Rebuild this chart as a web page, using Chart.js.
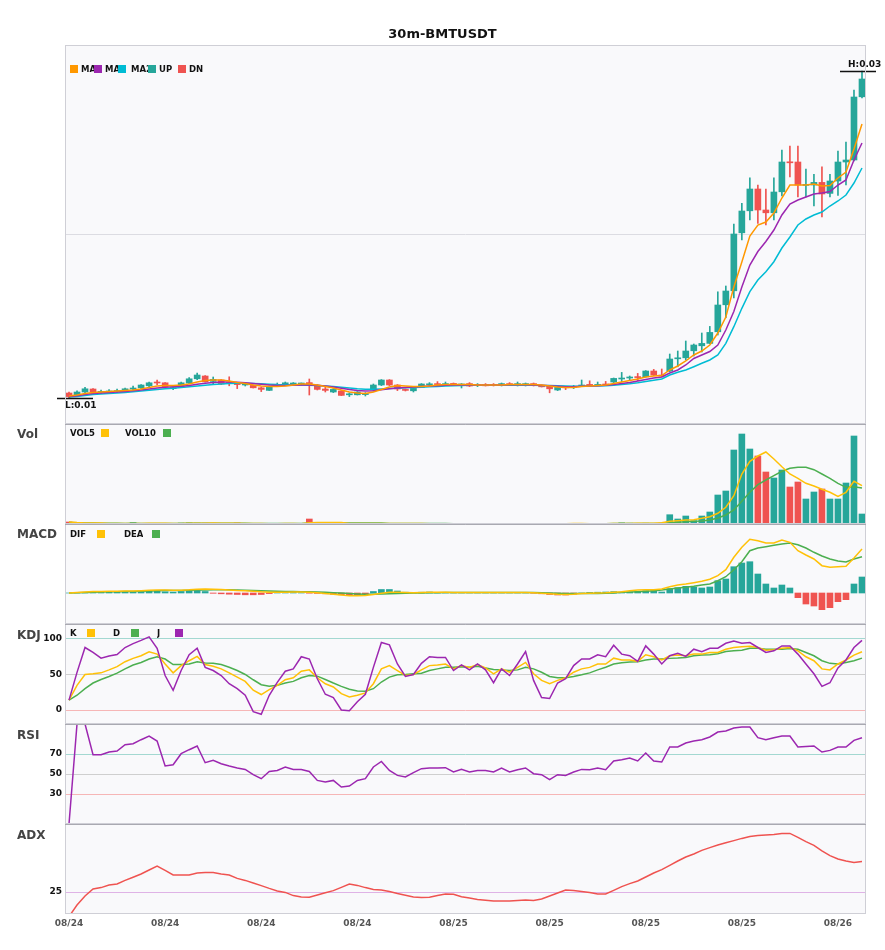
<!DOCTYPE html>
<html lang="en">
<head>
  <meta charset="UTF-8" />
  <title>30m-BMTUSDT</title>
  <script src="https://cdn.jsdelivr.net/npm/chart.js"></script>
  <style>
    body { margin: 0; background: #fff; font-family: 'DejaVu Sans', sans-serif; }
    #wrap { position: relative; width: 885px; height: 950px; }
    canvas { position: absolute; left: 0; }
    .title { position: absolute; left: 0; top: 26px; width: 885px; text-align: center; font: bold 13px 'DejaVu Sans'; line-height: 16px; color: #111; }
    .pname { position: absolute; left: 17px; font: bold 12px 'DejaVu Sans'; line-height: 14px; color: #444; }
    .lg { position: absolute; font: bold 8.5px 'DejaVu Sans'; line-height: 10px; color: #111; white-space: nowrap; overflow: hidden; }
    .sq { position: absolute; width: 8px; height: 8px; }
  </style>
</head>
<body>
<div id="wrap">
  <canvas id="mainChart" width="885" height="424" style="top:0"></canvas>
  <canvas id="volChart" width="885" height="100" style="top:424px"></canvas>
  <canvas id="macdChart" width="885" height="100" style="top:524px"></canvas>
  <canvas id="kdjChart" width="885" height="100" style="top:624px"></canvas>
  <canvas id="rsiChart" width="885" height="100" style="top:724px"></canvas>
  <canvas id="adxChart" width="885" height="126" style="top:824px"></canvas>

  <div class="title">30m-BMTUSDT</div>

  <!-- main legend: later squares sit over the clipped MA labels -->
  <div class="sq" style="left:70px;top:65px;background:#ff9800"></div>
  <div class="lg" style="left:81px;top:64px;width:13px">MA5</div>
  <div class="sq" style="left:94px;top:65px;background:#9c27b0"></div>
  <div class="lg" style="left:105px;top:64px;width:13px">MA10</div>
  <div class="sq" style="left:118px;top:65px;background:#00bcd4"></div>
  <div class="lg" style="left:131px;top:64px;width:17px">MA20</div>
  <div class="sq" style="left:148px;top:65px;background:#26a69a"></div>
  <div class="lg" style="left:159px;top:64px">UP</div>
  <div class="sq" style="left:178px;top:65px;background:#ef5350"></div>
  <div class="lg" style="left:189px;top:64px">DN</div>

  <div class="pname" style="top:427px">Vol</div>
  <div class="lg" style="left:70px;top:428px">VOL5</div>
  <div class="sq" style="left:101px;top:429px;background:#ffc107"></div>
  <div class="lg" style="left:125px;top:428px">VOL10</div>
  <div class="sq" style="left:163px;top:429px;background:#4caf50"></div>

  <div class="pname" style="top:527px">MACD</div>
  <div class="lg" style="left:70px;top:529px">DIF</div>
  <div class="sq" style="left:97px;top:530px;background:#ffc107"></div>
  <div class="lg" style="left:124px;top:529px">DEA</div>
  <div class="sq" style="left:152px;top:530px;background:#4caf50"></div>

  <div class="pname" style="top:628px">KDJ</div>
  <div class="lg" style="left:70px;top:628px">K</div>
  <div class="sq" style="left:87px;top:629px;background:#ffc107"></div>
  <div class="lg" style="left:113px;top:628px">D</div>
  <div class="sq" style="left:131px;top:629px;background:#4caf50"></div>
  <div class="lg" style="left:157px;top:628px">J</div>
  <div class="sq" style="left:175px;top:629px;background:#9c27b0"></div>

  <div class="pname" style="top:728px">RSI</div>
  <div class="pname" style="top:828px">ADX</div>
</div>

<script>
  // candles, 30m, prices in USDT
  const open = [0.01205,0.01192,0.01210,0.01225,0.01207,0.01210,0.01212,0.01215,0.01225,0.01231,
    0.01241,0.01258,0.01256,0.01227,0.01236,0.01255,0.01276,0.01290,0.01263,0.01270,
    0.01256,0.01250,0.01245,0.01243,0.01231,0.01218,0.01242,0.01245,0.01250,0.01250,
    0.01257,0.01243,0.01225,0.01210,0.01215,0.01196,0.01196,0.01197,0.01220,0.01245,
    0.01270,0.01245,0.01221,0.01216,0.01233,0.01246,0.01252,0.01247,0.01253,0.01245,
    0.01252,0.01242,0.01247,0.01246,0.01242,0.01252,0.01247,0.01242,0.01252,0.01243,
    0.01240,0.01220,0.01233,0.01233,0.01240,0.01246,0.01243,0.01250,0.01260,0.01275,
    0.01280,0.01285,0.01286,0.01315,0.01293,0.01315,0.01376,0.01381,0.01416,0.01441,
    0.01453,0.01511,0.01646,0.01716,0.02006,0.02116,0.02225,0.02120,0.02106,0.02211,
    0.02360,0.02360,0.02243,0.02245,0.02258,0.02203,0.02265,0.02360,0.02370,0.02686];
  const close = [0.01187,0.01210,0.01226,0.01211,0.01213,0.01215,0.01217,0.01226,0.01227,0.01245,
    0.01256,0.01255,0.01236,0.01230,0.01256,0.01276,0.01295,0.01261,0.01273,0.01250,
    0.01253,0.01247,0.01247,0.01231,0.01223,0.01236,0.01245,0.01256,0.01252,0.01251,
    0.01250,0.01223,0.01218,0.01223,0.01193,0.01198,0.01210,0.01202,0.01245,0.01270,
    0.01245,0.01225,0.01218,0.01228,0.01250,0.01250,0.01247,0.01252,0.01243,0.01248,
    0.01240,0.01247,0.01241,0.01243,0.01252,0.01247,0.01250,0.01252,0.01242,0.01236,
    0.01226,0.01233,0.01231,0.01238,0.01243,0.01243,0.01248,0.01243,0.01278,0.01278,
    0.01282,0.01282,0.01315,0.01295,0.01290,0.01375,0.01381,0.01415,0.01445,0.01453,
    0.01508,0.01645,0.01715,0.02000,0.02115,0.02225,0.02120,0.02106,0.02210,0.02360,
    0.02356,0.02245,0.02246,0.02258,0.02200,0.02265,0.02360,0.02370,0.02685,0.02775];
  const high = [0.01210,0.01216,0.01233,0.01227,0.01220,0.01222,0.01225,0.01230,0.01240,0.01247,
    0.01260,0.01270,0.01257,0.01237,0.01260,0.01282,0.01305,0.01292,0.01285,0.01272,
    0.01286,0.01252,0.01252,0.01245,0.01235,0.01240,0.01255,0.01260,0.01257,0.01255,
    0.01275,0.01247,0.01235,0.01227,0.01217,0.01205,0.01212,0.01207,0.01250,0.01272,
    0.01272,0.01247,0.01225,0.01230,0.01252,0.01257,0.01262,0.01260,0.01255,0.01252,
    0.01257,0.01252,0.01252,0.01252,0.01255,0.01257,0.01260,0.01255,0.01255,0.01245,
    0.01242,0.01237,0.01235,0.01243,0.01270,0.01266,0.01260,0.01263,0.01280,0.01308,
    0.01290,0.01303,0.01317,0.01323,0.01325,0.01400,0.01415,0.01465,0.01450,0.01505,
    0.01538,0.01711,0.01740,0.02050,0.02153,0.02281,0.02245,0.02225,0.02281,0.02420,
    0.02440,0.02440,0.02325,0.02298,0.02336,0.02298,0.02415,0.02460,0.02720,0.02815];
  const low = [0.01180,0.01187,0.01206,0.01205,0.01202,0.01203,0.01207,0.01210,0.01217,0.01227,
    0.01237,0.01247,0.01235,0.01222,0.01232,0.01252,0.01272,0.01260,0.01250,0.01247,
    0.01241,0.01227,0.01240,0.01230,0.01212,0.01217,0.01240,0.01242,0.01245,0.01245,
    0.01195,0.01220,0.01210,0.01207,0.01192,0.01187,0.01195,0.01190,0.01215,0.01242,
    0.01242,0.01217,0.01215,0.01210,0.01232,0.01240,0.01240,0.01242,0.01242,0.01230,
    0.01237,0.01237,0.01240,0.01240,0.01240,0.01242,0.01240,0.01240,0.01240,0.01235,
    0.01206,0.01217,0.01222,0.01227,0.01237,0.01240,0.01242,0.01242,0.01257,0.01260,
    0.01270,0.01266,0.01285,0.01292,0.01286,0.01312,0.01336,0.01370,0.01390,0.01410,
    0.01452,0.01495,0.01581,0.01681,0.01970,0.02070,0.02053,0.02045,0.02070,0.02190,
    0.02286,0.02186,0.02186,0.02141,0.02086,0.02186,0.02193,0.02245,0.02365,0.02681];

  const ma5 = [0.01190,0.01195,0.012025,0.012075,0.01210,0.012125,0.01215,0.012175,0.01220,0.01225,
    0.012325,0.01240,0.012425,0.012425,0.01245,0.01250,0.01260,0.012675,0.01270,0.01270,
    0.01265,0.012575,0.012525,0.01245,0.01240,0.012375,0.012375,0.01240,0.01245,0.01250,
    0.01250,0.01245,0.012375,0.01230,0.01220,0.01210,0.01205,0.012025,0.01210,0.012225,
    0.01235,0.012425,0.01240,0.012375,0.012375,0.01240,0.01245,0.012475,0.012475,0.012475,
    0.012475,0.01245,0.01245,0.01245,0.01245,0.012475,0.012475,0.012475,0.012475,0.01245,
    0.01240,0.01235,0.012325,0.012325,0.012375,0.01240,0.012425,0.01245,0.012525,0.01260,
    0.012675,0.01275,0.01285,0.01290,0.012925,0.01320,0.01340,0.01365,0.01395,0.01415,
    0.01445,0.01505,0.01585,0.01735,0.01860,0.01990,0.02045,0.02060,0.02105,0.02180,
    0.02245,0.02245,0.02245,0.02250,0.02240,0.022425,0.02280,0.02310,0.02425,0.02550];
  const ma10 = [0.011875,0.011915,0.011975,0.012025,0.01205,0.012075,0.01210,0.012125,0.01216,0.01220,
    0.01225,0.01230,0.012335,0.01236,0.012385,0.012425,0.012485,0.012535,0.012575,0.01260,
    0.01260,0.012585,0.01256,0.012525,0.012485,0.01245,0.012425,0.012425,0.012435,0.01245,
    0.01245,0.012435,0.01240,0.01235,0.012285,0.012225,0.012175,0.01215,0.01216,0.01221,
    0.01226,0.01230,0.012325,0.01235,0.012375,0.01240,0.012415,0.012435,0.01245,0.01245,
    0.01245,0.01245,0.01245,0.01245,0.01245,0.01246,0.01246,0.01246,0.01245,0.012435,
    0.01241,0.012385,0.012365,0.012365,0.012385,0.01240,0.012415,0.012435,0.012475,0.012525,
    0.012575,0.01265,0.012725,0.01280,0.01285,0.01305,0.01320,0.01345,0.013775,0.01395,
    0.014125,0.01445,0.01520,0.016125,0.01735,0.01845,0.019125,0.019625,0.02020,0.02095,
    0.02150,0.02170,0.02185,0.02200,0.02205,0.022125,0.02245,0.02270,0.02370,0.02455];
  const ma20 = [0.01185,0.011875,0.011925,0.011975,0.01200,0.012025,0.01205,0.012075,0.01211,0.01215,
    0.01219,0.012225,0.01226,0.01229,0.012325,0.01236,0.01240,0.01244,0.012475,0.01250,
    0.012525,0.012535,0.012535,0.012525,0.01251,0.01249,0.01247,0.01246,0.01245,0.01245,
    0.01244,0.012425,0.01240,0.012375,0.01234,0.01230,0.012265,0.01224,0.012235,0.01225,
    0.01227,0.01229,0.01231,0.012325,0.01234,0.01236,0.01238,0.01240,0.012415,0.012425,
    0.012435,0.01244,0.01244,0.01244,0.01244,0.01244,0.01244,0.01244,0.012435,0.01243,
    0.01242,0.01241,0.01240,0.01239,0.01239,0.012395,0.01240,0.01241,0.012435,0.01247,
    0.01251,0.01256,0.01262,0.012685,0.01275,0.01295,0.013085,0.01320,0.013365,0.013535,
    0.01370,0.01395,0.014535,0.015365,0.016285,0.017115,0.01770,0.018115,0.018615,0.01930,
    0.01985,0.02045,0.02075,0.02095,0.02110,0.02140,0.02165,0.02195,0.02255,0.02330];

  // volume in millions
  const vol = [0.20,0.08,0.06,0.05,0.04,0.04,0.03,0.04,0.15,0.05,
    0.06,0.05,0.05,0.03,0.10,0.12,0.09,0.08,0.05,0.05,
    0.06,0.10,0.03,0.03,0.04,0.04,0.03,0.04,0.03,0.03,
    0.50,0.08,0.05,0.05,0.06,0.04,0.03,0.03,0.05,0.06,
    0.05,0.04,0.03,0.03,0.04,0.03,0.03,0.03,0.03,0.03,
    0.03,0.02,0.02,0.02,0.02,0.02,0.02,0.02,0.02,0.03,
    0.05,0.04,0.03,0.03,0.04,0.03,0.03,0.03,0.06,0.12,
    0.08,0.06,0.08,0.07,0.10,0.93,0.50,0.80,0.33,0.80,
    1.20,2.90,3.30,7.40,9.00,7.50,6.80,5.20,4.60,5.40,
    3.70,4.20,2.50,3.20,3.50,2.50,2.50,4.10,8.80,1.00];
  const vol5 = [0.20,0.14,0.11,0.10,0.09,0.05,0.04,0.04,0.06,0.06,
    0.07,0.07,0.07,0.05,0.06,0.07,0.08,0.08,0.09,0.08,
    0.07,0.07,0.06,0.05,0.05,0.03,0.03,0.04,0.04,0.03,
    0.13,0.14,0.14,0.14,0.15,0.06,0.05,0.04,0.04,0.05,
    0.05,0.05,0.05,0.04,0.04,0.03,0.03,0.03,0.03,0.03,
    0.03,0.03,0.02,0.02,0.02,0.02,0.02,0.02,0.02,0.02,
    0.03,0.03,0.03,0.04,0.04,0.03,0.03,0.03,0.04,0.06,
    0.06,0.07,0.08,0.08,0.13,0.27,0.33,0.40,0.43,0.57,
    0.73,1.07,1.67,2.83,5.00,6.27,6.80,7.20,6.50,5.73,
    5.00,4.57,4.07,3.80,3.47,3.17,2.77,3.17,4.27,3.83];
  const vol10 = [0.15,0.12,0.10,0.09,0.08,0.07,0.07,0.06,0.07,0.06,
    0.06,0.06,0.06,0.06,0.06,0.07,0.07,0.08,0.07,0.07,
    0.07,0.07,0.07,0.06,0.06,0.05,0.05,0.05,0.05,0.04,
    0.09,0.09,0.09,0.09,0.09,0.09,0.09,0.09,0.09,0.09,
    0.05,0.05,0.04,0.04,0.04,0.04,0.04,0.04,0.03,0.03,
    0.03,0.03,0.03,0.03,0.03,0.02,0.02,0.02,0.02,0.02,
    0.03,0.03,0.03,0.03,0.03,0.03,0.03,0.03,0.04,0.05,
    0.05,0.05,0.06,0.06,0.07,0.13,0.17,0.23,0.27,0.30,
    0.40,0.60,0.90,1.40,2.27,3.17,3.93,4.40,4.83,5.27,
    5.57,5.67,5.67,5.43,5.00,4.57,4.07,3.67,3.73,3.60];

  // MACD in units of 1e-5 USDT
  const dif = [0,0.5,1,1.5,1.5,1.7,1.8,2,2,2.3,
    2.7,3,3,2.8,2.8,3.2,3.8,4,3.8,3.5,
    3,2.5,2.2,1.8,1.2,0.8,0.7,0.8,1,1,
    0.8,0.2,-0.5,-1.2,-2,-2.7,-2.8,-2.5,-1.5,-0.2,
    0.8,0.8,0.5,0.3,0.5,0.7,0.7,0.7,0.6,0.5,
    0.5,0.4,0.4,0.4,0.5,0.5,0.5,0.5,0.3,-0.2,
    -0.8,-1.3,-1.4,-1.2,-0.6,-0.2,0,0.2,0.7,1.3,
    2.3,3,3.3,3.3,4,6.3,8,9,10.3,11.7,
    13.7,17.3,23.3,35.7,45.7,53.7,52.3,50,50,53,
    50.7,42.3,38,34,27.3,25.7,26.3,26.7,35,44];
  const dea = [0,0.2,0.5,0.8,1,1.2,1.3,1.5,1.6,1.8,
    2,2.2,2.4,2.5,2.6,2.7,2.9,3.1,3.2,3.3,
    3.2,3,2.8,2.6,2.3,2,1.7,1.5,1.4,1.3,
    1.2,1,0.7,0.3,-0.1,-0.6,-1,-1.3,-1.3,-1.1,
    -0.7,-0.4,-0.2,0,0.1,0.2,0.3,0.4,0.4,0.4,
    0.4,0.4,0.4,0.4,0.4,0.4,0.4,0.4,0.4,0.3,
    0.1,-0.2,-0.4,-0.6,-0.6,-0.5,-0.4,-0.3,0,0.7,
    1,1.3,1.7,2.3,3,4,5,5.7,6.7,8,
    9,12.3,16.3,23.3,31.3,42.3,45,46.3,47.7,49,
    50,48.3,45,40.7,37,34,32,31,34,36.3];
  const macd = [0,0.3,0.5,0.7,1,1.3,1.3,1.3,1.2,1.5,
    2,2,1.2,0.8,1.5,2.5,2.5,1.5,-0.3,-0.8,
    -1.2,-1.5,-1.8,-1.8,-1.5,-0.6,0.2,0.5,0.5,0.2,
    -0.2,-0.4,-0.8,-1.3,-1.8,-2.2,-1.8,-0.8,1.5,3.5,
    3.5,2,0.8,0.5,0.8,1,0.6,0.5,0.4,0.2,
    0.2,0,0,0,0.2,0.2,0.2,0.2,-0.2,-0.8,
    -1.5,-2,-2,-1.2,0,0.6,0.8,1,1.4,0.7,
    1,1.3,2.3,2.3,1,4.3,5.3,6.7,6,5,
    6,12.3,14,26.3,30,31.3,19,9,5,8,
    5,-4.7,-11,-13,-16.7,-14.7,-8.7,-6.7,9,16];

  const kLine = [13.9,34.7,50,51,52.3,56.5,61,68,72.7,76.4,
    82,78.7,64.8,52.3,62.5,69.4,75.5,64,61.6,57.9,
    52.3,46.3,40.3,27.8,21.8,28.7,34.7,42.6,45.4,54.6,
    56.5,45.4,37,32.4,23,18.5,20.8,24,37,57.9,
    62.5,55.6,48.6,50,56.5,62.5,63.4,64.8,57.9,62.5,
    60,64,59.3,51,57.9,53.2,60,67,51,41.7,
    37,41.7,45.4,53.2,57.9,60,64.8,64.8,73,70.4,
    70.4,68.5,77.8,75,70.4,76.4,77.3,76.4,78.7,78.7,
    81,81,85.6,88,88.9,89.8,88,84.3,84.7,87,
    88,83.3,75,69.4,57.9,56.5,64.8,70.4,77.3,82];
  const dLine = [13.9,20.8,30,38,43,47.2,51.9,57.9,63.4,67,
    71.8,75,71.8,64,64,64.8,68,66.2,65.7,64,
    60.2,55.6,50,42.6,35.6,33.3,34.7,38,40.3,45.4,
    48.6,47.7,43,38,33.3,29.2,26.9,26.4,30,39.4,
    46.3,49.5,50,51,51.9,55.6,57.9,60.2,60.2,61,
    60.2,61.6,59.3,57,56.5,55.6,56.5,60.2,57.9,53.2,
    47.2,45.4,45.4,47.2,49.5,52.3,56.5,60.2,64.8,66.7,
    67.6,68,70.4,71.8,71.8,72.7,73.1,74,76.4,77.3,
    77.8,79.2,82.4,83.3,84.3,87,87,85.6,85.6,85.6,
    86.6,85.6,81,76.4,69.4,65.7,64.8,67,69.4,73.1];
  const jLine = [13.9,53,88,81,73,76,78,88,93.5,98,
    103,87,48.6,27.8,55.6,77.8,87,60,55.6,48.6,
    37,30,20.8,-2.3,-6,20.8,39,54.6,57.9,75,
    71.8,44,22.2,17.6,0,-1,11.6,22.2,60,95,
    91.7,64.8,47.2,50,65.7,75,74,74,55.6,63.4,
    56.5,64.8,56.5,38.4,57.9,48.6,64.8,82.4,41.7,17.6,
    16.2,38,44,62.5,71.8,71.8,77.8,75,91.2,78.7,
    76.4,68.5,90.3,78.7,64.8,76.4,80,75.5,85.6,82,
    87,87,94,97.2,94,94.9,88,81,83.3,90.3,
    90.3,78.7,64.8,51,33.3,38.4,59.3,70.4,88,98];

  const rsi = [0,100,100,69.3,69.3,72,73,79.3,80.3,84.3,
    88,83,58,59.3,70.3,74.3,78,61.3,63.6,60.3,
    58,56,54.6,49.3,45.3,52.6,53.6,57,54.6,54.6,
    52.6,43.6,42,43.6,37,38,43.6,45.3,57,62.6,
    53.6,48.6,47,51.3,55.3,56,56,56.3,52,54.6,
    52,53.6,53.6,52,56,52,54.3,56,50.3,49.3,
    44.3,49.3,48.6,52,54.6,54.3,56,54.3,63,64.3,
    66,63,71,63,62,77,77,81,83,84.3,
    87,92,93,96,97,97,86.3,84.3,86.3,88,
    88,77,77.6,78,72,73.6,77,77,83.6,86.3];

  const adx = [12.7,18.5,23,26.5,27.2,28.5,29,30.8,32.4,34,
    36,38,35.8,33.5,33.5,33.5,34.5,34.7,34.7,34,
    33.5,31.8,30.8,29.5,28.2,26.8,25.5,24.8,23.2,22.5,
    22.4,23.5,24.6,25.7,27.3,29,28.3,27.2,26.3,26,
    25.3,24.3,23.4,22.5,22.3,22.4,23.3,24,23.9,22.6,
    22,21.3,20.9,20.5,20.5,20.5,20.8,21,20.8,21.5,
    23,24.5,26,25.8,25.3,24.8,24,24,25.8,27.7,
    29.2,30.5,32.5,34.5,36.2,38.3,40.5,42.5,44,45.8,
    47.2,48.5,49.6,50.7,51.8,52.7,53.2,53.5,53.7,54.2,
    54.3,52.3,50.2,48.3,45.6,43.2,41.5,40.5,39.8,40.3];

  // axis ticks / guide levels
  const dateTicks = ['08/24','08/24','08/24','08/24','08/25','08/25','08/25','08/25','08/26'];
  const tickStep = 12;
  const priceGrid = [0.02];
  const kdjTicks = [0, 50, 100];
  const rsiTicks = [30, 50, 70];
  const adxTicks = [25];

  const UP = '#26a69a', DN = '#ef5350';
  const labels = open.map((_, i) => i);
  const candleColors = close.map((c, i) => (c >= open[i] ? UP : DN));

  Chart.defaults.font.family = "'DejaVu Sans', sans-serif";
  Chart.defaults.animation = false;
  Chart.defaults.events = [];
  Chart.defaults.plugins.legend.display = false;
  Chart.defaults.plugins.tooltip.enabled = false;

  // panel background + border
  const frame = {
    id: 'frame',
    beforeDraw(chart) {
      const { ctx, chartArea: a } = chart;
      ctx.save();
      ctx.fillStyle = '#f9f9fb';
      ctx.fillRect(a.left, a.top, a.width, a.height);
      ctx.restore();
    },
    afterDraw(chart, args, opts) {
      const { ctx, chartArea: a } = chart;
      ctx.save();
      ctx.lineWidth = 1;
      ctx.strokeStyle = '#cfcfd6';
      ctx.strokeRect(a.left + 0.5, a.top + 0.5, a.width - 1, a.height - 1);
      if (opts.top) {
        ctx.strokeStyle = opts.top;
        ctx.beginPath();
        ctx.moveTo(a.left, a.top + 0.5);
        ctx.lineTo(a.right, a.top + 0.5);
        ctx.stroke();
      }
      ctx.restore();
    }
  };

  // H / L markers on the price panel
  const hiLo = {
    id: 'hiLo',
    afterDatasetsDraw(chart) {
      const { ctx, scales: { x, y } } = chart;
      const hi = Math.max(...high), lo = Math.min(...low);
      const hx = x.getPixelForValue(high.indexOf(hi));
      const lx = x.getPixelForValue(low.indexOf(lo));
      const hy = Math.round(y.getPixelForValue(hi)) + 0.5;
      const ly = Math.round(y.getPixelForValue(lo)) + 0.5;
      const hx1 = Math.min(hx + 16, 876), hx0 = hx1 - 36;
      const lx0 = Math.max(lx - 12, 56), lx1 = lx0 + 36;
      ctx.save();
      ctx.strokeStyle = '#111';
      ctx.lineWidth = 1.5;
      ctx.beginPath();
      ctx.moveTo(hx0, hy); ctx.lineTo(hx1, hy);
      ctx.moveTo(lx0, ly); ctx.lineTo(lx1, ly);
      ctx.stroke();
      ctx.fillStyle = '#111';
      ctx.font = "bold 9px 'DejaVu Sans'";
      ctx.textAlign = 'left';
      ctx.textBaseline = 'bottom';
      ctx.fillText('H:' + hi.toFixed(2), hx0 + 8, hy - 2);
      ctx.textBaseline = 'top';
      ctx.fillText('L:' + lo.toFixed(2), lx0 + 8, ly + 3);
      ctx.restore();
    }
  };

  function line(data, color, order) {
    return { type: 'line', data, borderColor: color, borderWidth: 1.5, pointRadius: 0, tension: 0, fill: false, order: order || 0 };
  }

  function xAxis(show) {
    return {
      type: 'category', offset: true, display: show,
      grid: { display: false, drawTicks: false }, border: { display: false },
      ticks: {
        autoSkip: false, maxRotation: 0, minRotation: 0, padding: 4,
        color: '#555', font: { size: 9, weight: 'bold' },
        callback: (v, i) => (i % tickStep === 0 ? dateTicks[i / tickStep] : '')
      },
      afterFit: s => {
        s.height = show ? 36 : 0;
        s.paddingLeft = 0;
        s.paddingRight = 0;
      }
    };
  }

  function guideAxis(min, max, ticks, colors, showLabels) {
    return {
      min, max, position: 'left',
      afterFit: s => {
        s.width = 65;
        s.paddingTop = 0;
        s.paddingBottom = 0;
      },
      afterBuildTicks: s => { s.ticks = ticks.map(v => ({ value: v })); },
      grid: { drawTicks: false, color: c => colors[c.index] },
      border: { display: false },
      ticks: { display: showLabels, padding: 3, color: '#111', font: { size: 9, weight: 'bold' } }
    };
  }

  function panel(id, datasets, scales, padding, top, extra) {
    return new Chart(document.getElementById(id), {
      type: 'bar',
      data: { labels, datasets },
      options: {
        responsive: false,
        maintainAspectRatio: false,
        layout: { padding },
        scales,
        plugins: { frame: { top } }
      },
      plugins: [frame].concat(extra || [])
    });
  }

  // price panel
  panel('mainChart', [
    { data: low.map((l, i) => [l, high[i]]), backgroundColor: candleColors, barThickness: 1, grouped: false, order: 3 },
    { data: open.map((o, i) => [o, close[i]]), backgroundColor: candleColors, barThickness: 6, minBarLength: 1, grouped: false, order: 2 },
    line(ma20, '#00bcd4', 1),
    line(ma10, '#9c27b0', 0),
    line(ma5, '#ff9800', -1)
  ], {
    x: xAxis(false),
    y: guideAxis(0.0105, 0.02945, priceGrid, ['#dcdce2'], false)
  }, { top: 45, right: 19, left: 0, bottom: 0 }, null, [hiLo]);

  // volume
  panel('volChart', [
    { data: vol, backgroundColor: candleColors, barThickness: 6, grouped: false, order: 2 },
    line(vol10, '#4caf50', 1),
    line(vol5, '#ffc107', 0)
  ], {
    x: xAxis(false),
    y: { display: false, min: 0, max: 10 }
  }, { left: 65, right: 19, top: 0, bottom: 0 }, '#a9a9b1');

  // MACD
  panel('macdChart', [
    { data: macd, backgroundColor: macd.map(v => (v >= 0 ? UP : DN)), barThickness: 6, grouped: false, order: 2 },
    line(dea, '#4caf50', 1),
    line(dif, '#ffc107', 0)
  ], {
    x: xAxis(false),
    y: { display: false, min: -31, max: 69 }
  }, { left: 65, right: 19, top: 0, bottom: 0 }, '#a9a9b1');

  // KDJ
  panel('kdjChart', [
    line(dLine, '#4caf50', 2),
    line(kLine, '#ffc107', 1),
    line(jLine, '#9c27b0', 0)
  ], {
    x: xAxis(false),
    y: guideAxis(-19.7, 121.1, kdjTicks, ['#f6b6b6', '#cfcfcf', '#a3d8d1'], true)
  }, { left: 0, right: 19, top: 0, bottom: 0 }, '#a9a9b1');

  // RSI
  panel('rsiChart', [
    line(rsi, '#9c27b0', 0)
  ], {
    x: xAxis(false),
    y: guideAxis(0, 100, rsiTicks, ['#f6b6b6', '#cfcfcf', '#a3d8d1'], true)
  }, { left: 0, right: 19, top: 0, bottom: 0 }, '#a9a9b1');

  // ADX
  panel('adxChart', [
    line(adx, '#ef5350', 0)
  ], {
    x: xAxis(true),
    y: guideAxis(14, 59, adxTicks, ['#dfb3e6'], true)
  }, { left: 0, right: 19, top: 0, bottom: 0 }, '#a9a9b1');
</script>
</body>
</html>
